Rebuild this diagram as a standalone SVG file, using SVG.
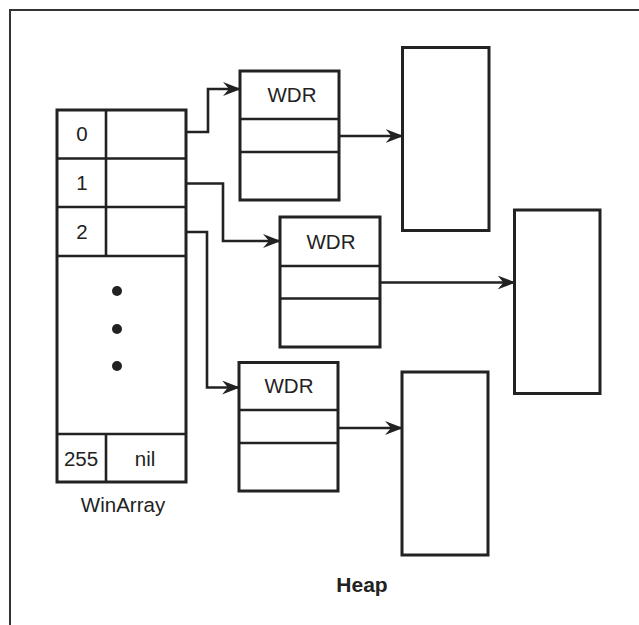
<svg xmlns="http://www.w3.org/2000/svg" width="639" height="625" viewBox="0 0 639 625">
<defs>
<style>
.box{fill:#fff;stroke:#222;stroke-width:3}
.ln{stroke:#222;stroke-width:2.6;fill:none}
.con{stroke:#222;stroke-width:2.6;fill:none;marker-end:url(#ah)}
.t{font-family:"Liberation Sans",Arial,sans-serif;font-size:20.5px;fill:#222;text-anchor:middle}
.h{font-family:"Liberation Sans",Arial,sans-serif;font-size:21px;font-weight:bold;fill:#222;text-anchor:middle}
.dot{fill:#222}
</style>
<marker id="ah" markerUnits="userSpaceOnUse" markerWidth="20" markerHeight="14" refX="17" refY="7" orient="auto">
<path d="M0,0 L18,7 L0,14 L6,7 z" fill="#222"/>
</marker>
</defs>
<rect width="639" height="625" fill="#fff"/>
<path d="M10,625 V10 H639" fill="none" stroke="#333" stroke-width="2"/>

<g id="winarray">
<rect class="box" x="57" y="110" width="129" height="372"/>
<path class="ln" d="M57,158.5 H186 M57,207 H186 M57,256 H186 M57,434 H186 M106,110 V256 M106,434 V482"/>
<text class="t" x="82" y="141">0</text>
<text class="t" x="82" y="190">1</text>
<text class="t" x="82" y="239">2</text>
<circle class="dot" cx="117" cy="291" r="5"/>
<circle class="dot" cx="117" cy="329" r="5"/>
<circle class="dot" cx="117" cy="366" r="5"/>
<text class="t" x="81" y="466">255</text>
<text class="t" x="145" y="466">nil</text>
<text class="t" x="123" y="512">WinArray</text>
</g>

<g id="wdr1">
<rect class="box" x="240" y="71" width="99" height="129"/>
<path class="ln" d="M240,119 H339 M240,152 H339"/>
<text class="t" x="292" y="102">WDR</text>
</g>

<g id="wdr2">
<rect class="box" x="280" y="217" width="100" height="130"/>
<path class="ln" d="M280,266 H380 M280,298.5 H380"/>
<text class="t" x="331" y="249">WDR</text>
</g>

<g id="wdr3">
<rect class="box" x="239" y="362.5" width="99" height="128.5"/>
<path class="ln" d="M239,410 H338 M239,443 H338"/>
<text class="t" x="289" y="393">WDR</text>
</g>

<g id="block1"><rect class="box" x="402.5" y="47.5" width="86.5" height="183"/></g>
<g id="block2"><rect class="box" x="514.5" y="210" width="85.5" height="183.5"/></g>
<g id="block3"><rect class="box" x="402" y="372" width="86" height="183"/></g>

<text class="h" x="362" y="592">Heap</text>

<g id="connectors">
<path class="con" d="M186,132 H208 V89 H240"/>
<path class="con" d="M186,183.5 H223 V241 H280"/>
<path class="con" d="M186,232 H207 V387.5 H239"/>
<path class="con" d="M339,136 H402.5"/>
<path class="con" d="M380,282.5 H514.5"/>
<path class="con" d="M338,428 H402"/>
</g>
</svg>
